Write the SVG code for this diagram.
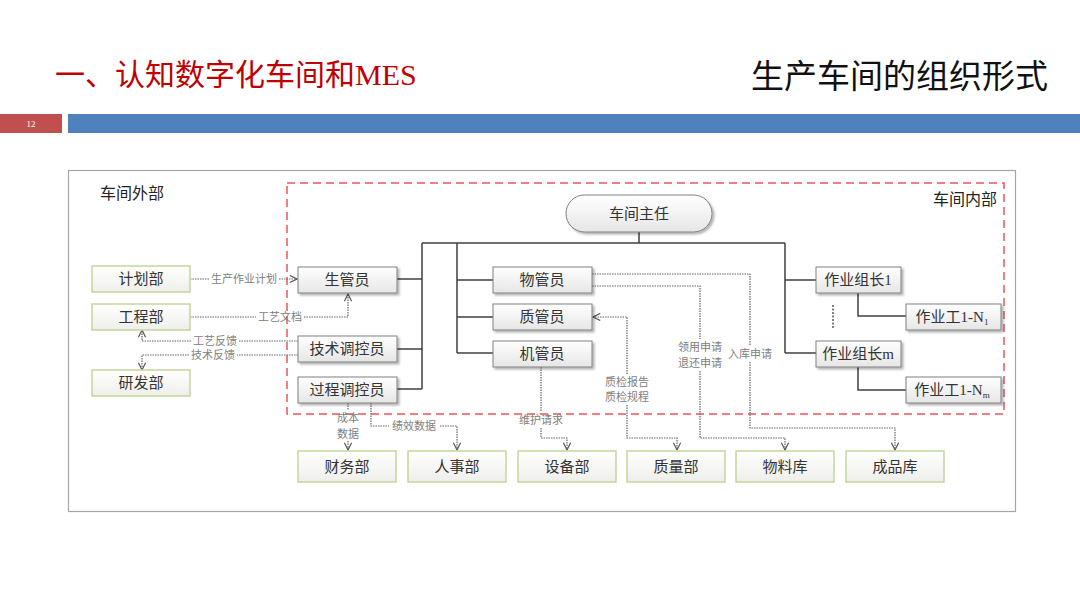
<svg xmlns="http://www.w3.org/2000/svg" width="1080" height="608" viewBox="0 0 1080 608">
<defs>
<linearGradient id="gGray" x1="0" y1="0" x2="0" y2="1">
<stop offset="0" stop-color="#ffffff"/><stop offset="1" stop-color="#e6e6e6"/>
</linearGradient>
<linearGradient id="gGreen" x1="0" y1="0" x2="0" y2="1">
<stop offset="0" stop-color="#ffffff"/><stop offset="1" stop-color="#eeeeea"/>
</linearGradient>
<filter id="sh" x="-10%" y="-20%" width="130%" height="160%">
<feDropShadow dx="2" dy="2" stdDeviation="1.2" flood-color="#000" flood-opacity="0.3"/>
</filter>
<marker id="arr" viewBox="0 0 10 10" refX="9" refY="5" markerWidth="9" markerHeight="9" markerUnits="userSpaceOnUse" orient="auto-start-reverse">
<path d="M1,1 L9,5 L1,9" fill="none" stroke="#555" stroke-width="1.3"/>
</marker>
<style>
.t{font-family:"Noto Sans CJK SC","Noto Sans",sans-serif;}
.lat{font-family:"Liberation Serif",serif;}
.gb{fill:url(#gGreen);stroke:#c3d69b;stroke-width:1.5;}
.nb{fill:url(#gGray);stroke:#808080;stroke-width:1;filter:url(#sh);}
.bt{font-size:15px;fill:#333;text-anchor:middle;}
.solid{fill:none;stroke:#404040;stroke-width:1.5;}
.dot{fill:none;stroke:#666;stroke-width:1.2;stroke-dasharray:1.5 1;}
.lb{font-size:11px;fill:#808080;text-anchor:middle;}
</style>
</defs>
<rect width="1080" height="608" fill="#ffffff"/>
<!-- header -->
<text x="55" y="85" class="t" font-size="30" fill="#c00000">一、认知数字化车间和<tspan class="lat">MES</tspan></text>
<text x="1048" y="88" class="t" font-size="33" fill="#111" text-anchor="end">生产车间的组织形式</text>
<rect x="0" y="114" width="62" height="19" fill="#c0504d"/>
<text x="31" y="127" class="lat" font-size="9" fill="#fff" text-anchor="middle">12</text>
<rect x="68" y="114" width="1012" height="19" fill="#4f81bd"/>
<!-- frames -->
<rect x="68.5" y="170.5" width="947" height="341" fill="#fff" stroke="#a6a6a6" stroke-width="1.2"/>
<rect x="287" y="183" width="717" height="231" fill="none" stroke="#e8575a" stroke-width="1.5" stroke-dasharray="8 5"/>
<text x="100" y="199" class="t" font-size="16" fill="#222">车间外部</text>
<text x="997" y="205" class="t" font-size="16" fill="#222" text-anchor="end">车间内部</text>
<!-- connectors -->
<g id="connectors">
<path class="solid" d="M639,232 V243 M422,243 H785 M422,243 V389 M397,279 H422 M397,349 H422 M397,389 H422 M457,243 V353 M457,280 H493 M457,317 H493 M457,353 H493 M785,243 V353 M785,280 H816 M785,353 H816 M858,293 V316 H906 M858,367 V390 H906"/>
<path d="M833,305 V329" fill="none" stroke="#555" stroke-width="1.5" stroke-dasharray="2 1.5"/>
<path class="dot" d="M190,279 H209"/>
<path class="dot" d="M279,279 H297" marker-end="url(#arr)"/>
<text class="t lb" x="244" y="283">生产作业计划</text>
<path class="dot" d="M190,317 H256"/>
<path class="dot" d="M304,317 H348 V294" marker-end="url(#arr)"/>
<text class="t lb" x="280" y="321">工艺文档</text>
<path class="dot" d="M298,341 H239"/>
<path class="dot" d="M191,341 H142 V330" marker-end="url(#arr)"/>
<text class="t lb" x="215" y="345">工艺反馈</text>
<path class="dot" d="M298,355 H237"/>
<path class="dot" d="M189,355 H142 V370" marker-end="url(#arr)"/>
<text class="t lb" x="213" y="359">技术反馈</text>
<path class="dot" d="M348,403 V410"/>
<path class="dot" d="M348,441 V450" marker-end="url(#arr)"/>
<text class="t lb" x="348" y="422">成本</text>
<text class="t lb" x="348" y="438">数据</text>
<path class="dot" d="M371,403 V426 H389"/>
<path class="dot" d="M440,426 H457 V450" marker-end="url(#arr)"/>
<text class="t lb" x="414" y="430">绩效数据</text>
<path class="dot" d="M541,367 V412"/>
<path class="dot" d="M541,428 V438 H567 V450" marker-end="url(#arr)"/>
<text class="t lb" x="541" y="424">维护请求</text>
<path class="dot" d="M627,374 V317 H593" marker-end="url(#arr)"/>
<path class="dot" d="M627,405 V438 H677 V450" marker-end="url(#arr)"/>
<text class="t lb" x="627" y="386">质检报告</text>
<text class="t lb" x="627" y="401">质检规程</text>
<path class="dot" d="M592,286 H700 V339"/>
<path class="dot" d="M700,371 V438 H785 V450" marker-end="url(#arr)"/>
<text class="t lb" x="700" y="351">领用申请</text>
<text class="t lb" x="700" y="367">退还申请</text>
<path class="dot" d="M592,274 H750 V346"/>
<path class="dot" d="M750,362 V428 H895 V450" marker-end="url(#arr)"/>
<text class="t lb" x="750" y="358">入库申请</text>
</g>
<!-- nodes -->
<g id="n-zhuren"><rect x="566" y="195" width="146" height="37" rx="18.5" class="nb"/><text x="639" y="219" class="t bt">车间主任</text></g>
<g id="n-jihua"><rect x="92" y="266" width="98" height="26" class="gb"/><text x="141" y="284" class="t bt">计划部</text></g>
<g id="n-gongcheng"><rect x="92" y="304" width="98" height="26" class="gb"/><text x="141" y="322" class="t bt">工程部</text></g>
<g id="n-yanfa"><rect x="92" y="370" width="98" height="26" class="gb"/><text x="141" y="388" class="t bt">研发部</text></g>
<g id="n-shengguan"><rect x="298" y="267" width="99" height="26" class="nb"/><text x="347" y="285" class="t bt">生管员</text></g>
<g id="n-jishu"><rect x="298" y="336" width="99" height="26" class="nb"/><text x="347" y="354" class="t bt">技术调控员</text></g>
<g id="n-guocheng"><rect x="298" y="377" width="99" height="26" class="nb"/><text x="347" y="395" class="t bt">过程调控员</text></g>
<g id="n-wuguan"><rect x="493" y="267" width="99" height="26" class="nb"/><text x="542" y="285" class="t bt">物管员</text></g>
<g id="n-zhiguan"><rect x="493" y="304" width="99" height="26" class="nb"/><text x="542" y="322" class="t bt">质管员</text></g>
<g id="n-jiguan"><rect x="493" y="341" width="99" height="26" class="nb"/><text x="542" y="359" class="t bt">机管员</text></g>
<g id="n-zuzhang1"><rect x="816" y="267" width="85" height="26" class="nb"/><text x="858" y="285" class="t bt">作业组长<tspan class="lat">1</tspan></text></g>
<g id="n-zuzhangm"><rect x="816" y="341" width="85" height="26" class="nb"/><text x="858" y="359" class="t bt">作业组长<tspan class="lat">m</tspan></text></g>
<g id="n-gong1"><rect x="906" y="304" width="95" height="26" class="nb"/><text x="952" y="322" class="t bt">作业工<tspan class="lat">1-N</tspan><tspan class="lat" font-size="9" dy="3">1</tspan></text></g>
<g id="n-gongm"><rect x="906" y="377" width="95" height="26" class="nb"/><text x="952" y="395" class="t bt">作业工<tspan class="lat">1-N</tspan><tspan class="lat" font-size="9" dy="3">m</tspan></text></g>
<g id="n-caiwu"><rect x="298" y="451" width="98" height="31" class="gb"/><text x="347" y="472" class="t bt">财务部</text></g>
<g id="n-renshi"><rect x="408" y="451" width="98" height="31" class="gb"/><text x="457" y="472" class="t bt">人事部</text></g>
<g id="n-shebei"><rect x="518" y="451" width="98" height="31" class="gb"/><text x="567" y="472" class="t bt">设备部</text></g>
<g id="n-zhiliang"><rect x="627" y="451" width="98" height="31" class="gb"/><text x="676" y="472" class="t bt">质量部</text></g>
<g id="n-wuliao"><rect x="736" y="451" width="98" height="31" class="gb"/><text x="785" y="472" class="t bt">物料库</text></g>
<g id="n-chengpin"><rect x="846" y="451" width="98" height="31" class="gb"/><text x="895" y="472" class="t bt">成品库</text></g>
</svg>
